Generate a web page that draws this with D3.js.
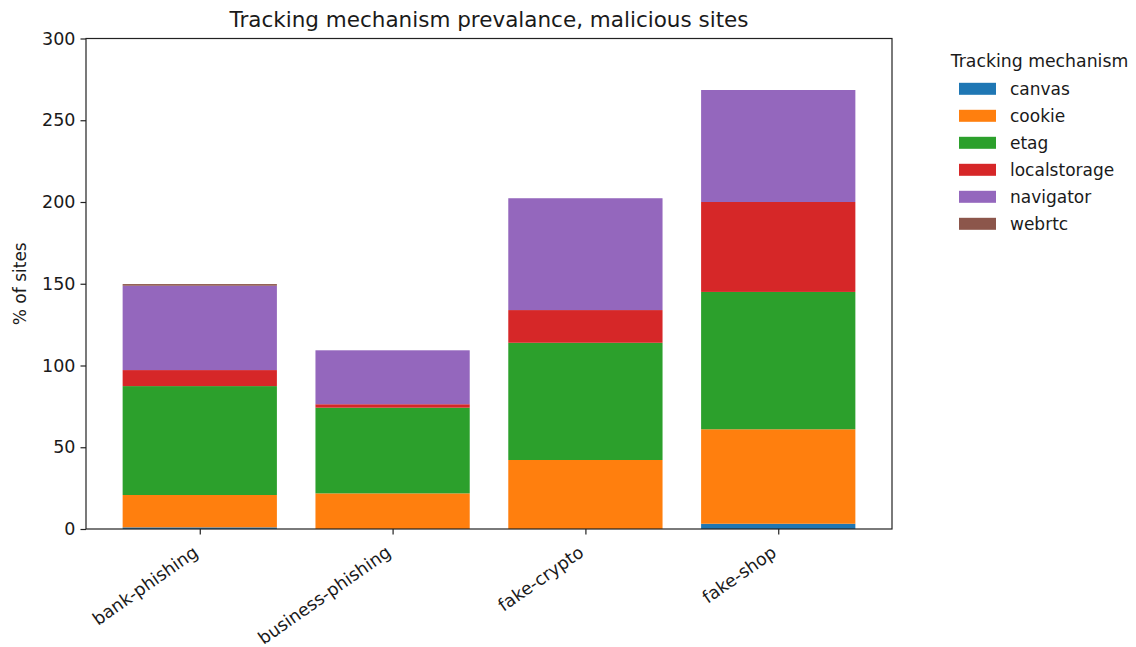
<!DOCTYPE html>
<html>
<head>
<meta charset="utf-8">
<script src="https://cdn.jsdelivr.net/npm/d3@7"></script>
<style>
  html, body { margin: 0; padding: 0; background: #fff; }
  svg { display: block; font-family: "DejaVu Sans", sans-serif; }
</style>
</head>
<body>
<svg id="chart" width="1136" height="647"></svg>
<script>
// Site categories along the x axis
const categories = ["bank-phishing", "business-phishing", "fake-crypto", "fake-shop"];

// Share of sites (%) using each tracking mechanism, per category
const canvas       = [1.0, 0.0, 0.0, 3.2];
const cookie       = [19.8, 21.8, 42.2, 57.8];
const etag         = [66.6, 52.4, 71.7, 84.0];
const localstorage = [9.8, 2.1, 20.0, 55.0];
const navigator_   = [51.6, 33.0, 68.4, 68.5];
const webrtc       = [1.0, 0.0, 0.0, 0.0];

const mechanisms = ["canvas", "cookie", "etag", "localstorage", "navigator", "webrtc"];
const seriesValues = [canvas, cookie, etag, localstorage, navigator_, webrtc];
const colors = ["#1f77b4", "#ff7f0e", "#2ca02c", "#d62728", "#9467bd", "#8c564b"];

const yTicks = [0, 50, 100, 150, 200, 250, 300];

const svg = d3.select("#chart");
const plot = { left: 86, right: 892, top: 38.5, bottom: 529 };
const textColor = "#1a1a1a";

// Rows for d3.stack
const rows = categories.map((c, i) => {
  const r = { category: c, index: i };
  mechanisms.forEach((m, k) => { r[m] = seriesValues[k][i]; });
  return r;
});
const stacked = d3.stack().keys(mechanisms)(rows);

// Bar width 0.8 with 5% margins on the data range
const barWidth = 0.8;
const span = (categories.length - 1) + barWidth;
const pad = span * 0.05;
const x = d3.scaleLinear()
  .domain([-barWidth / 2 - pad, categories.length - 1 + barWidth / 2 + pad])
  .range([plot.left, plot.right]);
const y = d3.scaleLinear().domain([0, 300]).range([plot.bottom, plot.top]);
const color = d3.scaleOrdinal().domain(mechanisms).range(colors);

// Stacked bars
svg.append("g")
  .selectAll("g")
  .data(stacked)
  .join("g")
  .attr("fill", d => color(d.key))
  .selectAll("rect")
  .data(d => d)
  .join("rect")
  .attr("x", d => x(d.data.index - barWidth / 2))
  .attr("width", d => x(d.data.index + barWidth / 2) - x(d.data.index - barWidth / 2))
  .attr("y", d => y(d[1]))
  .attr("height", d => Math.max(0, y(d[0]) - y(d[1])));

// Y axis
const yAxis = svg.append("g")
  .attr("transform", `translate(${plot.left},0)`)
  .call(d3.axisLeft(y).tickValues(yTicks).tickSize(5.5).tickPadding(5).tickFormat(d3.format("d")));
yAxis.select(".domain").remove();
yAxis.selectAll(".tick line").attr("stroke", "#222").attr("stroke-width", 1.2);
yAxis.selectAll(".tick text").attr("fill", textColor).style("font-size", "17.5px").style("font-family", "DejaVu Sans");

// X axis with labels rotated 35 degrees, right-aligned on each tick
const xAxis = svg.append("g")
  .attr("transform", `translate(0,${plot.bottom})`)
  .call(d3.axisBottom(x).tickValues(d3.range(categories.length)).tickSize(5.5).tickFormat(i => categories[i]));
xAxis.select(".domain").remove();
xAxis.selectAll(".tick line").attr("stroke", "#222").attr("stroke-width", 1.2);
xAxis.selectAll(".tick text")
  .attr("fill", textColor)
  .style("font-size", "17.5px")
  .style("font-family", "DejaVu Sans")
  .attr("text-anchor", "end")
  .attr("y", 0)
  .attr("dy", 0)
  .attr("transform", "translate(-1,26) rotate(-35)");

// Frame
svg.append("rect")
  .attr("x", plot.left).attr("y", plot.top)
  .attr("width", plot.right - plot.left).attr("height", plot.bottom - plot.top)
  .attr("fill", "none").attr("stroke", "#222").attr("stroke-width", 1.2);

// Title
svg.append("text")
  .attr("x", (plot.left + plot.right) / 2).attr("y", 26.5)
  .attr("text-anchor", "middle")
  .attr("fill", textColor)
  .style("font-size", "21.5px")
  .text("Tracking mechanism prevalance, malicious sites");

// Y axis label
svg.append("text")
  .attr("transform", `translate(26,${(plot.top + plot.bottom) / 2}) rotate(-90)`)
  .attr("text-anchor", "middle")
  .attr("fill", textColor)
  .style("font-size", "17px")
  .text("% of sites");

// Legend
const legend = svg.append("g");
legend.append("text")
  .attr("x", 1039.5).attr("y", 67)
  .attr("text-anchor", "middle")
  .attr("fill", textColor)
  .style("font-size", "17.3px")
  .text("Tracking mechanism");
const item = legend.selectAll("g.item")
  .data(mechanisms)
  .join("g")
  .attr("class", "item")
  .attr("transform", (d, i) => `translate(959,${95 + i * 27})`);
item.append("rect")
  .attr("x", 0).attr("y", -12.2)
  .attr("width", 37).attr("height", 12)
  .attr("fill", d => color(d));
item.append("text")
  .attr("x", 51).attr("y", 0)
  .attr("fill", textColor)
  .style("font-size", "17px")
  .text(d => d);
</script>
</body>
</html>
